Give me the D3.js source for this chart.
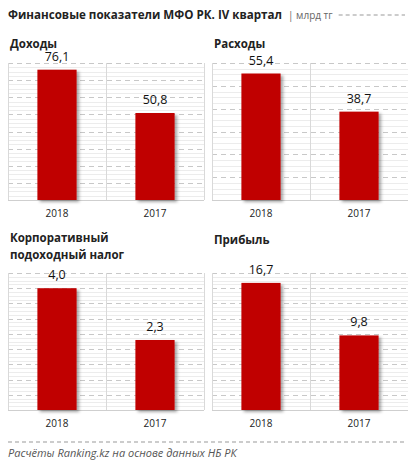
<!DOCTYPE html>
<html>
<head>
<meta charset="utf-8">
<script src="https://cdn.jsdelivr.net/npm/d3@7"></script>
<style>
  body { margin: 0; background: #fff; }
  svg { display: block; font-family: "Open Sans", sans-serif; }
</style>
</head>
<body>
<div id="chart"></div>
<script>
const years = ["2018", "2017"];
const panelTitles = [["Доходы"], ["Расходы"], ["Корпоративный", "подоходный налог"], ["Прибыль"]];
const incomeValues = [76.1, 50.8];
const expenseValues = [55.4, 38.7];
const taxValues = [4.0, 2.3];
const profitValues = [16.7, 9.8];
const axisMax = [80, 60, 4.5, 18];
const axisStep = [10, 10, 0.5, 2];

const W = 408, H = 463;
const BAR = "#c00000";
const fmt = (v) => d3.format(".1f")(v).replace(".", ",");

const svg = d3.select("#chart").append("svg").attr("width", W).attr("height", H);

const defs = svg.append("defs");
const shadow = defs.append("filter").attr("id", "shadow").attr("x", "-20%").attr("y", "-20%").attr("width", "150%").attr("height", "150%");
shadow.append("feDropShadow").attr("dx", 2.5).attr("dy", 2).attr("stdDeviation", 1.6).attr("flood-color", "#000").attr("flood-opacity", 0.35);

// header
const title = svg.append("text").attr("x", 8).attr("y", 19)
  .attr("font-size", 12).attr("font-weight", 700).attr("fill", "#222")
  .attr("textLength", 274).attr("lengthAdjust", "spacingAndGlyphs")
  .text("Финансовые показатели МФО РК. IV квартал");
const tw = Math.max(274, title.node().getBBox().width);
const unit = svg.append("text").attr("x", 8 + tw + 6).attr("y", 19)
  .attr("font-size", 10).attr("fill", "#666").text("| млрд тг");
const uw = unit.node().getComputedTextLength();
svg.append("line").attr("x1", 8 + tw + uw + 12).attr("x2", W - 3).attr("y1", 15).attr("y2", 15)
  .attr("stroke", "#999").attr("stroke-dasharray", "4 3");

const panels = [
  { values: incomeValues, x0: 8, x1: 204, top: 63, bottom: 200, titleY: 48 },
  { values: expenseValues, x0: 212, x1: 408, top: 63, bottom: 200, titleY: 48 },
  { values: taxValues, x0: 8, x1: 204, top: 273, bottom: 410, titleY: 242 },
  { values: profitValues, x0: 212, x1: 408, top: 273, bottom: 410, titleY: 244 },
];

panels.forEach((p, i) => {
  const g = svg.append("g");
  const x = d3.scaleBand().domain(years).range([p.x0, p.x1]).paddingInner(0.6).paddingOuter(0.3);
  const band = d3.scaleBand().domain(years).range([p.x0, p.x1]);
  const y = d3.scaleLinear().domain([0, axisMax[i]]).range([p.bottom, p.top]);

  const major = d3.range(0, axisMax[i] + axisStep[i] / 2, axisStep[i]);
  const minor = d3.range(0, axisMax[i], axisStep[i] / 4).filter((v, k) => k % 4 !== 0);

  g.append("g").selectAll("line").data(minor).join("line")
    .attr("x1", p.x0).attr("x2", p.x1)
    .attr("y1", (d) => Math.round(y(d)) + 0.5).attr("y2", (d) => Math.round(y(d)) + 0.5)
    .attr("stroke", "#ececec").attr("stroke-width", 1);

  g.append("g").selectAll("line").data(major.slice(1)).join("line")
    .attr("x1", p.x0).attr("x2", p.x1)
    .attr("y1", (d) => Math.round(y(d)) + 0.5).attr("y2", (d) => Math.round(y(d)) + 0.5)
    .attr("stroke", "#c8c8c8").attr("stroke-dasharray", "5 4");

  // vertical borders
  [p.x0, band(years[1]), p.x1].forEach((vx) => {
    g.append("line").attr("x1", Math.round(vx) + 0.5).attr("x2", Math.round(vx) + 0.5)
      .attr("y1", p.top).attr("y2", p.bottom).attr("stroke", "#d9d9d9");
  });

  g.append("line").attr("x1", p.x0).attr("x2", p.x1)
    .attr("y1", p.bottom + 0.5).attr("y2", p.bottom + 0.5).attr("stroke", "#cfcfcf");

  g.append("g").selectAll("rect").data(p.values).join("rect")
    .attr("x", (d, k) => x(years[k]))
    .attr("width", x.bandwidth())
    .attr("y", (d) => y(d))
    .attr("height", (d) => p.bottom - y(d))
    .attr("fill", BAR)
    .attr("filter", "url(#shadow)");

  g.append("g").selectAll("text").data(p.values).join("text")
    .attr("x", (d, k) => x(years[k]) + x.bandwidth() / 2)
    .attr("y", (d) => y(d) - 9)
    .attr("text-anchor", "middle").attr("font-size", 12.5).attr("fill", "#111")
    .text(fmt);

  g.append("g").selectAll("text").data(years).join("text")
    .attr("x", (d) => x(d) + x.bandwidth() / 2)
    .attr("y", p.bottom + 17)
    .attr("text-anchor", "middle").attr("font-size", 10).attr("fill", "#222")
    .text((d) => d);

  const lines = panelTitles[i];
  g.append("g").selectAll("text").data(lines).join("text")
    .attr("x", p.x0 + 2)
    .attr("y", (d, k) => (lines.length > 1 ? 242 + k * 17 : p.titleY))
    .attr("font-size", 11.5).attr("font-weight", 700).attr("fill", "#222")
    .text((d) => d);
});

// footer
svg.append("line").attr("x1", 8).attr("x2", W - 3).attr("y1", 442).attr("y2", 442)
  .attr("stroke", "#999").attr("stroke-dasharray", "4 3");
svg.append("text").attr("x", 8).attr("y", 457)
  .attr("font-size", 11).attr("font-style", "italic").attr("fill", "#555")
  .text("Расчёты Ranking.kz на основе данных НБ РК");
</script>
</body>
</html>
